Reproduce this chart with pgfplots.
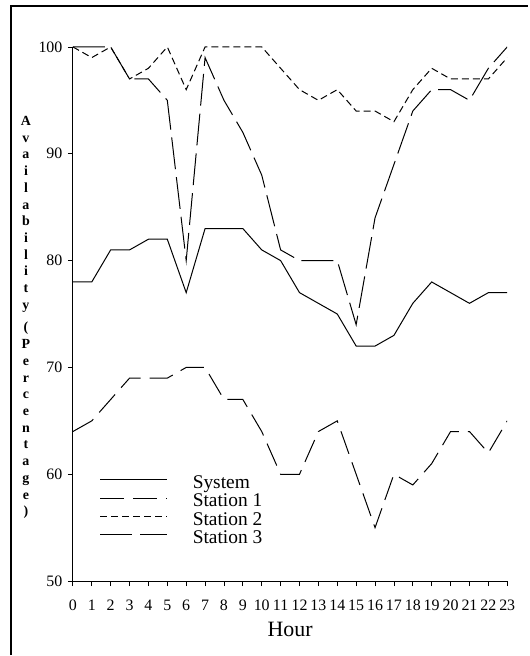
\documentclass[border=0pt]{standalone}
\usepackage{fontspec}
\setmainfont{Liberation Serif}
\usepackage{pgfplots}
\pgfplotsset{compat=1.18}
\begin{document}
\begin{tikzpicture}[x=1bp,y=1bp]
\path (0,0) rectangle (529,656);
\draw[line width=2bp] (11,0) -- (11,650) -- (529,650);
\begin{axis}[
  at={(73bp,74bp)}, anchor=south west,
  scale only axis, width=435bp, height=535bp,
  xmin=0, xmax=23, ymin=50, ymax=100,
  axis lines=left, axis line style={-, line width=0.8bp},
  xtick={0,1,...,23}, ytick={50,60,70,80,90,100},
  tick align=outside, tick style={line width=0.8bp, black}, major tick length=5bp,
  /pgf/number format/assume math mode=true,
  ticklabel style={font=\fontsize{16}{16}\selectfont},
  xticklabel style={yshift=-10bp},
  yticklabel style={xshift=-2bp},
  xlabel={Hour},
  xlabel style={font=\fontsize{22}{22}\selectfont, yshift=-5bp},
  legend style={at={(axis cs:1.43,59.95)}, anchor=north west, draw=none, fill=none,
    inner sep=0pt, outer sep=0pt, row sep=0pt, column sep=25bp,
    font=\fontsize{19.5}{17}\selectfont,
    nodes={inner sep=0pt, outer sep=0pt, text height=13.5bp, text depth=5bp}},
  legend cell align=left,
  legend image code/.code={\draw[#1, line width=1bp] (0bp,4.5bp) -- (67bp,4.5bp);},
  no markers,
]
\addplot[black, solid, line width=1bp] coordinates {(0,78)(1,78)(2,81)(3,81)(4,82)(5,82)(6,77)(7,83)(8,83)(9,83)(10,81)(11,80)(12,77)(13,76)(14,75)(15,72)(16,72)(17,73)(18,76)(19,78)(20,77)(21,76)(22,77)(23,77)};
\addlegendentry{System}
\addplot[black, line width=1bp, dash pattern=on 24bp off 9bp] coordinates {(0,64)(1,65)(2,67)(3,69)(4,69)(5,69)(6,70)(7,70)(8,67)(9,67)(10,64)(11,60)(12,60)(13,64)(14,65)(15,60)(16,55)(17,60)(18,59)(19,61)(20,64)(21,64)(22,62)(23,65)};
\addlegendentry{Station 1}
\addplot[black, line width=1bp, dash pattern=on 7bp off 4bp] coordinates {(0,100)(1,99)(2,100)(3,97)(4,98)(5,100)(6,96)(7,100)(8,100)(9,100)(10,100)(11,98)(12,96)(13,95)(14,96)(15,94)(16,94)(17,93)(18,96)(19,98)(20,97)(21,97)(22,97)(23,99)};
\addlegendentry{Station 2}
\addplot[black, line width=1bp, dash pattern=on 32bp off 8bp] coordinates {(0,100)(1,100)(2,100)(3,97)(4,97)(5,95)(6,80)(7,99)(8,95)(9,92)(10,88)(11,81)(12,80)(13,80)(14,80)(15,74)(16,84)(17,89)(18,94)(19,96)(20,96)(21,95)(22,98)(23,100)};
\addlegendentry{Station 3}
\end{axis}
\node[font=\fontsize{14}{16.8}\selectfont\bfseries, align=center] at (26,338)
  {A\\v\\a\\i\\l\\a\\b\\i\\l\\i\\t\\y\\[6bp](\\P\\e\\r\\c\\e\\n\\t\\a\\g\\e\\)};
\end{tikzpicture}
\end{document}
